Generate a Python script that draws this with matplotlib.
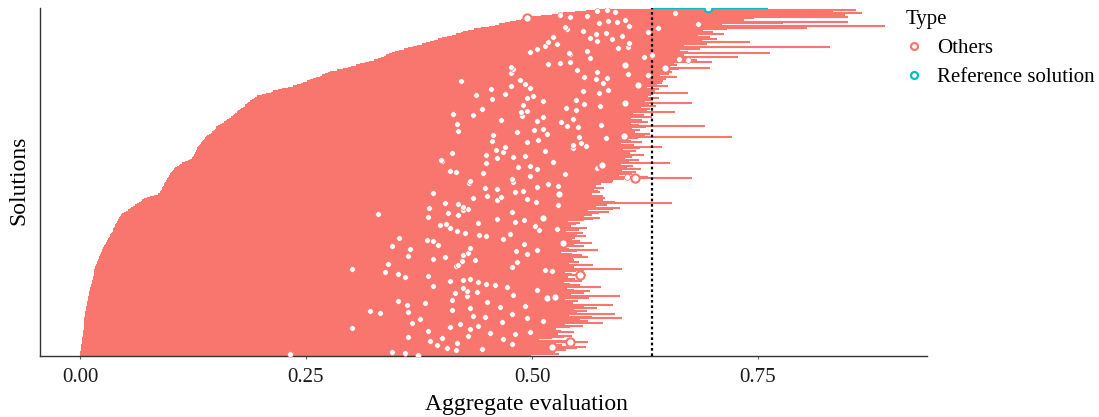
import numpy as np
import matplotlib
matplotlib.use("Agg")
import matplotlib.pyplot as plt
from matplotlib.lines import Line2D

plt.rcParams['font.family'] = ['Liberation Serif', 'DejaVu Serif']

RED = '#F8766D'
CYAN = '#00BFC4'

# solutions, bottom (row 0) to top: lower bound, upper bound, point value
lo = [
    0.000, 0.000, 0.000, 0.000, 0.001, 0.001, 0.001, 0.001, 0.001, 0.002,
    0.002, 0.002, 0.002, 0.002, 0.002, 0.003, 0.003, 0.003, 0.003, 0.003,
    0.003, 0.004, 0.004, 0.004, 0.004, 0.004, 0.005, 0.005, 0.005, 0.005,
    0.005, 0.006, 0.006, 0.006, 0.006, 0.006, 0.007, 0.007, 0.007, 0.007,
    0.008, 0.008, 0.008, 0.008, 0.009, 0.009, 0.009, 0.009, 0.010, 0.010,
    0.010, 0.010, 0.011, 0.011, 0.011, 0.012, 0.012, 0.012, 0.013, 0.013,
    0.013, 0.014, 0.014, 0.014, 0.015, 0.015, 0.015, 0.016, 0.016, 0.016,
    0.017, 0.017, 0.018, 0.018, 0.019, 0.019, 0.020, 0.020, 0.021, 0.021,
    0.022, 0.022, 0.023, 0.023, 0.024, 0.024, 0.025, 0.026, 0.027, 0.028,
    0.029, 0.029, 0.030, 0.031, 0.031, 0.032, 0.033, 0.033, 0.034, 0.035,
    0.036, 0.037, 0.037, 0.038, 0.039, 0.039, 0.040, 0.041, 0.041, 0.042,
    0.043, 0.043, 0.044, 0.045, 0.047, 0.049, 0.051, 0.053, 0.055, 0.057,
    0.059, 0.061, 0.063, 0.065, 0.067, 0.069, 0.071, 0.074, 0.078, 0.082,
    0.086, 0.088, 0.089, 0.090, 0.091, 0.091, 0.092, 0.093, 0.093, 0.094,
    0.095, 0.095, 0.096, 0.097, 0.098, 0.099, 0.100, 0.101, 0.102, 0.103,
    0.104, 0.105, 0.107, 0.109, 0.111, 0.113, 0.116, 0.119, 0.122, 0.124,
    0.125, 0.126, 0.126, 0.127, 0.128, 0.128, 0.129, 0.130, 0.131, 0.132,
    0.133, 0.134, 0.135, 0.136, 0.137, 0.138, 0.139, 0.141, 0.143, 0.145,
    0.146, 0.148, 0.149, 0.150, 0.151, 0.153, 0.155, 0.157, 0.159, 0.161,
    0.163, 0.165, 0.167, 0.169, 0.170, 0.172, 0.174, 0.175, 0.177, 0.178,
    0.180, 0.182, 0.183, 0.185, 0.186, 0.188, 0.190, 0.192, 0.194, 0.196,
    0.201, 0.206, 0.211, 0.214, 0.219, 0.224, 0.230, 0.236, 0.240, 0.244,
    0.247, 0.251, 0.254, 0.258, 0.261, 0.265, 0.268, 0.271, 0.274, 0.277,
    0.284, 0.291, 0.297, 0.300, 0.305, 0.310, 0.315, 0.320, 0.325, 0.330,
    0.333, 0.336, 0.339, 0.342, 0.345, 0.349, 0.353, 0.358, 0.363, 0.368,
    0.373, 0.378, 0.383, 0.387, 0.392, 0.396, 0.401, 0.406, 0.411, 0.416,
    0.421, 0.424, 0.429, 0.436, 0.444, 0.452, 0.459, 0.464, 0.470, 0.476,
    0.482, 0.488, 0.492, 0.498, 0.510, 0.522, 0.534, 0.548, 0.560, 0.575,
]

hi = [
    0.499, 0.530, 0.512, 0.525, 0.538, 0.521, 0.550, 0.560, 0.533, 0.515,
    0.527, 0.562, 0.540, 0.508, 0.522, 0.535, 0.544, 0.529, 0.518, 0.547,
    0.532, 0.526, 0.513, 0.542, 0.556, 0.537, 0.579, 0.548, 0.562, 0.553,
    0.600, 0.566, 0.541, 0.592, 0.550, 0.534, 0.561, 0.546, 0.572, 0.538,
    0.557, 0.590, 0.545, 0.528, 0.551, 0.536, 0.563, 0.549, 0.597, 0.543,
    0.558, 0.531, 0.564, 0.547, 0.539, 0.576, 0.524, 0.553, 0.542, 0.535,
    0.555, 0.529, 0.548, 0.540, 0.533, 0.560, 0.544, 0.537, 0.549, 0.558,
    0.600, 0.546, 0.535, 0.568, 0.541, 0.552, 0.530, 0.547, 0.545, 0.562,
    0.538, 0.555, 0.544, 0.532, 0.550, 0.573, 0.541, 0.536, 0.558, 0.547,
    0.539, 0.566, 0.553, 0.544, 0.531, 0.548, 0.560, 0.550, 0.542, 0.556,
    0.538, 0.552, 0.546, 0.561, 0.543, 0.537, 0.549, 0.553, 0.540, 0.557,
    0.568, 0.575, 0.558, 0.566, 0.549, 0.574, 0.585, 0.562, 0.590, 0.597,
    0.571, 0.583, 0.568, 0.655, 0.592, 0.578, 0.564, 0.581, 0.570, 0.578,
    0.566, 0.562, 0.575, 0.573, 0.569, 0.580, 0.565, 0.571, 0.576, 0.575,
    0.588, 0.590, 0.602, 0.677, 0.628, 0.596, 0.611, 0.588, 0.615, 0.600,
    0.621, 0.605, 0.594, 0.612, 0.598, 0.653, 0.607, 0.592, 0.618, 0.603,
    0.611, 0.596, 0.624, 0.608, 0.605, 0.615, 0.601, 0.619, 0.644, 0.606,
    0.613, 0.598, 0.622, 0.610, 0.603, 0.617, 0.721, 0.625, 0.608, 0.630,
    0.614, 0.602, 0.620, 0.611, 0.626, 0.691, 0.618, 0.609, 0.628, 0.615,
    0.622, 0.610, 0.633, 0.619, 0.624, 0.612, 0.658, 0.627, 0.616, 0.630,
    0.621, 0.637, 0.618, 0.629, 0.677, 0.625, 0.634, 0.620, 0.641, 0.628,
    0.632, 0.623, 0.672, 0.636, 0.629, 0.640, 0.627, 0.650, 0.638, 0.631,
    0.644, 0.645, 0.633, 0.648, 0.639, 0.660, 0.642, 0.651, 0.637, 0.655,
    0.646, 0.663, 0.697, 0.652, 0.660, 0.644, 0.657, 0.699, 0.682, 0.670,
    0.661, 0.728, 0.668, 0.654, 0.763, 0.672, 0.664, 0.686, 0.677, 0.830,
    0.668, 0.694, 0.681, 0.741, 0.688, 0.705, 0.673, 0.697, 0.684, 0.712,
    0.691, 0.700, 0.689, 0.716, 0.804, 0.695, 0.890, 0.710, 0.778, 0.850,
    0.716, 0.735, 0.745, 0.850, 0.760, 0.846, 0.865, 0.820, 0.833, 0.858,
]

pt = [
    0.374, 0.232, 0.360, 0.345, 0.416, 0.445, 0.406, 0.522, 0.395, 0.478,
    0.417, 0.542, 0.387, 0.468, 0.400, 0.363, 0.429, 0.481, 0.454, 0.498,
    0.385, 0.431, 0.301, 0.409, 0.440, 0.420, 0.367, 0.467, 0.512, 0.376,
    0.494, 0.448, 0.435, 0.478, 0.332, 0.363, 0.321, 0.411, 0.431, 0.465,
    0.492, 0.362, 0.382, 0.450, 0.352, 0.411, 0.517, 0.525, 0.428, 0.479,
    0.415, 0.439, 0.428, 0.506, 0.424, 0.472, 0.390, 0.459, 0.449, 0.440,
    0.409, 0.424, 0.431, 0.360, 0.385, 0.553, 0.352, 0.337, 0.522, 0.514,
    0.301, 0.478, 0.416, 0.418, 0.341, 0.483, 0.423, 0.437, 0.390, 0.404,
    0.363, 0.424, 0.494, 0.429, 0.482, 0.506, 0.365, 0.431, 0.345, 0.396,
    0.491, 0.534, 0.390, 0.384, 0.468, 0.353, 0.449, 0.441, 0.476, 0.426,
    0.417, 0.508, 0.528, 0.409, 0.503, 0.398, 0.405, 0.440, 0.481, 0.491,
    0.461, 0.512, 0.385, 0.418, 0.330, 0.407, 0.478, 0.424, 0.429, 0.386,
    0.424, 0.529, 0.418, 0.404, 0.504, 0.461, 0.494, 0.435, 0.466, 0.450,
    0.530, 0.390, 0.481, 0.490, 0.461, 0.448, 0.506, 0.529, 0.518, 0.430,
    0.479, 0.431, 0.478, 0.614, 0.605, 0.498, 0.537, 0.446, 0.416, 0.409,
    0.505, 0.572, 0.485, 0.498, 0.577, 0.449, 0.523, 0.400, 0.399, 0.461,
    0.479, 0.492, 0.449, 0.412, 0.468, 0.514, 0.460, 0.545, 0.470, 0.560,
    0.545, 0.554, 0.494, 0.456, 0.507, 0.582, 0.552, 0.602, 0.457, 0.517,
    0.483, 0.418, 0.502, 0.512, 0.551, 0.539, 0.576, 0.417, 0.532, 0.505,
    0.466, 0.545, 0.512, 0.489, 0.435, 0.413, 0.488, 0.494, 0.549, 0.445,
    0.538, 0.575, 0.490, 0.557, 0.603, 0.512, 0.549, 0.456, 0.494, 0.501,
    0.438, 0.470, 0.574, 0.556, 0.584, 0.455, 0.498, 0.477, 0.617, 0.492,
    0.579, 0.421, 0.487, 0.571, 0.583, 0.557, 0.628, 0.606, 0.477, 0.572,
    0.550, 0.479, 0.647, 0.477, 0.603, 0.518, 0.531, 0.542, 0.672, 0.663,
    0.564, 0.624, 0.633, 0.542, 0.541, 0.498, 0.561, 0.505, 0.595, 0.606,
    0.514, 0.528, 0.607, 0.518, 0.572, 0.588, 0.564, 0.523, 0.600, 0.571,
    0.582, 0.628, 0.556, 0.539, 0.639, 0.536, 0.607, 0.684, 0.574, 0.594,
    0.584, 0.603, 0.494, 0.542, 0.561, 0.531, 0.658, 0.592, 0.572, 0.583,
]

# rows drawn with a larger marker
big = [7, 11, 46, 47, 65, 91, 111, 130, 143, 154, 177, 204, 218, 232, 234, 272]

# reference solution (top row)
ref_lo = 0.633
ref_hi = 0.761
ref_pt = 0.695

xticks = [0.00, 0.25, 0.50, 0.75]
xticklabels = ['0.00', '0.25', '0.50', '0.75']

n = len(lo)
rows = np.arange(n)
is_big = np.isin(rows, big)

fig = plt.figure(figsize=(10.99, 4.17), dpi=100)
ax = fig.add_axes([40 / 1099, 61 / 417, 887 / 1099, 348 / 417])

ax.hlines(rows, lo, hi, color=RED, lw=1.5, zorder=2)
ax.hlines(n, ref_lo, ref_hi, color=CYAN, lw=1.6, zorder=2)

ax.axvline(ref_lo, color='black', lw=1.6, ls=(0, (1.2, 1.2)), zorder=4)

ax.scatter(np.array(pt)[~is_big], rows[~is_big], s=17, facecolor='white',
           edgecolor=RED, linewidths=0.5, zorder=5)
ax.scatter(np.array(pt)[is_big], rows[is_big], s=36, facecolor='white',
           edgecolor=RED, linewidths=1.5, zorder=5)
ax.scatter([ref_pt], [n], s=30, facecolor='white', edgecolor=CYAN,
           linewidths=1.4, zorder=5)

ax.set_xlim(-0.0442, 0.9369)
ax.set_ylim(-0.5, n + 0.3)

for s in ['top', 'right']:
    ax.spines[s].set_visible(False)
for s in ['left', 'bottom']:
    ax.spines[s].set_color('#333333')
    ax.spines[s].set_linewidth(1.0)

ax.set_yticks([])
ax.set_xticks(xticks)
ax.set_xticklabels(xticklabels)
ax.tick_params(axis='x', length=2.5, width=0.8, color='#666666', pad=6,
               labelsize=15, labelcolor='#1a1a1a')

ax.set_xlabel('Aggregate evaluation', fontsize=17, va='center')
ax.xaxis.set_label_coords(0.548, -0.138)
ax.set_ylabel('Solutions', fontsize=17, va='center')
ax.yaxis.set_label_coords(-0.0237, 0.505)

handles = [
    Line2D([], [], ls='none', marker='o', ms=5, mfc='white', mec=RED, mew=1.6),
    Line2D([], [], ls='none', marker='o', ms=5, mfc='white', mec=CYAN, mew=1.6),
]
fig.legend(handles, ['Others', 'Reference solution'], title='Type',
           loc='upper left', bbox_to_anchor=(906 / 1099, 1 - 10 / 417),
           frameon=False, fontsize=15, title_fontsize=15, alignment='left',
           handlelength=0.8, handletextpad=0.7, labelspacing=0.45,
           borderpad=0, borderaxespad=0)

fig.savefig('out.png', dpi=100)
